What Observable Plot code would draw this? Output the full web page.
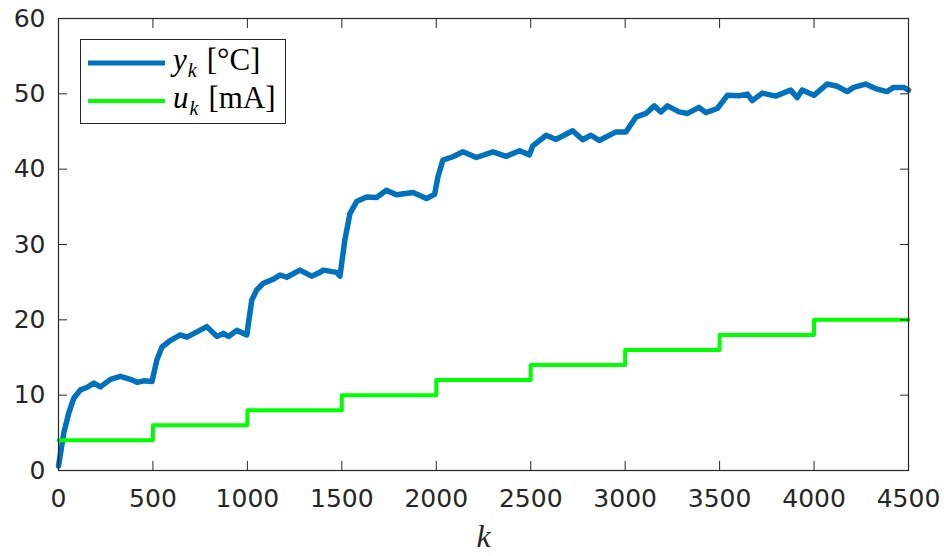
<!DOCTYPE html>
<html><head><meta charset="utf-8">
<script src="https://cdn.jsdelivr.net/npm/d3@7"></script>
<script src="https://cdn.jsdelivr.net/npm/@observablehq/plot@0.6"></script>
<style>
body{margin:0;background:#fff;}
#wrap{position:relative;width:944px;height:556px;}
#legend{position:absolute;left:80px;top:39px;width:204px;height:83px;border:1px solid #262626;background:#fff;font-family:"Liberation Serif",serif;font-size:31px;color:#000;box-sizing:content-box;}
.row{position:absolute;left:0;height:36px;line-height:36px;white-space:nowrap;}
.row svg{position:absolute;left:7px;top:14px;}
.txt{position:absolute;left:92px;top:-3px;}
.it{font-style:italic;}
.sb{font-size:20px;font-style:italic;position:relative;top:7px;margin-left:1px;margin-right:10px;}
</style></head>
<body><div id="wrap"></div>
<script>
const kY = [0,28,54,81,116,152,187,222,275,328,380,416,451,495,521,548,592,644,680,733,785,838,873,900,944,997,1023,1050,1085,1138,1173,1208,1278,1340,1384,1402,1472,1490,1516,1543,1578,1631,1684,1736,1789,1877,1948,1991,2009,2035,2088,2141,2212,2300,2370,2441,2493,2511,2582,2634,2722,2775,2819,2863,2951,3004,3057,3110,3154,3189,3224,3286,3330,3391,3427,3488,3541,3603,3647,3673,3726,3797,3876,3911,3937,3999,4069,4122,4175,4210,4272,4325,4386,4422,4475,4500];
const yVals = [0.6,5.0,7.6,9.6,10.7,11.05,11.6,11.1,12.1,12.5,12.1,11.7,11.9,11.8,14.7,16.4,17.25,18.0,17.7,18.4,19.1,17.8,18.2,17.8,18.6,18.0,22.6,24.0,24.85,25.4,25.95,25.65,26.6,25.8,26.3,26.6,26.3,25.8,30.6,34.1,35.7,36.3,36.25,37.2,36.6,36.9,36.1,36.65,39.0,41.2,41.65,42.3,41.55,42.3,41.7,42.45,41.9,43.1,44.5,43.95,45.1,43.9,44.5,43.8,44.95,44.95,46.9,47.4,48.4,47.6,48.4,47.6,47.4,48.2,47.5,48.05,49.8,49.75,49.96,49.1,50.1,49.7,50.5,49.5,50.5,49.8,51.3,51.0,50.3,50.85,51.3,50.7,50.3,50.85,50.85,50.5];
const kU = [0,500,1000,1500,2000,2500,3000,3500,4000,4500];
const uVals = [4,6,8,10,12,14,16,18,20,20];
const xTicks = [0,500,1000,1500,2000,2500,3000,3500,4000,4500];
const yTicks = [0,10,20,30,40,50,60];

const yData = kY.map((k,i)=>({k, v:yVals[i]}));
const uData = kU.map((k,i)=>({k, v:uVals[i]}));

const chart = Plot.plot({
  width:944, height:556,
  marginLeft:58, marginRight:36, marginTop:18, marginBottom:86,
  style:{fontFamily:"'DejaVu Sans', sans-serif", fontSize:"25px", color:"#262626", background:"white", overflow:"visible"},
  x:{domain:[0,4500]},
  y:{domain:[0,60]},
  marks:[
    Plot.line(yData, {x:"k", y:"v", stroke:"#0072BD", strokeWidth:5.5, strokeLinejoin:"round"}),
    Plot.line(uData, {x:"k", y:"v", curve:"step-after", stroke:"#00FF00", strokeWidth:4}),
    Plot.frame({stroke:"#262626", strokeWidth:1.2}),
    Plot.axisX({anchor:"bottom", ticks:xTicks, tickSize:-9, tickPadding:28, tickFormat:"d", label:null, stroke:"#262626"}),
    Plot.axisX({anchor:"top", ticks:xTicks, tickSize:-9, tickFormat:()=>"", label:null, stroke:"#262626"}),
    Plot.axisY({anchor:"left", ticks:yTicks, tickSize:-9, tickPadding:22, tickFormat:"d", label:null, stroke:"#262626"}),
    Plot.axisY({anchor:"right", ticks:yTicks, tickSize:-9, tickFormat:()=>"", label:null, stroke:"#262626"}),
    Plot.text(["k"], {frameAnchor:"bottom", dy:76, text:d=>d, fontStyle:"italic", fontFamily:"'Liberation Serif', serif", fontSize:32, fill:"#262626"})
  ]
});
const wrap = document.getElementById("wrap");
wrap.appendChild(chart);

const legend = document.createElement("div");
legend.id = "legend";
legend.innerHTML = `
<div class="row" style="top:5px"><svg width="77" height="8"><line x1="0" x2="77" y1="4" y2="4" stroke="#0072BD" stroke-width="5"/></svg><span class="txt"><span class="it">y</span><span class="sb">k</span>[°C]</span></div>
<div class="row" style="top:43px"><svg width="77" height="8"><line x1="0" x2="77" y1="4" y2="4" stroke="#00FF00" stroke-width="4"/></svg><span class="txt"><span class="it">u</span><span class="sb">k</span>[mA]</span></div>`;
wrap.appendChild(legend);
</script>
</body></html>
